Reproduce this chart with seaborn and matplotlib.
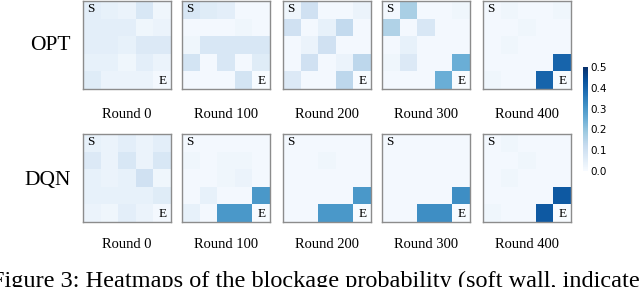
import numpy as np
import matplotlib
matplotlib.use("Agg")
import matplotlib.pyplot as plt
import seaborn as sns

# blockage probability per 5x5 grid cell
opt_r0 = [[0.05, 0.04, 0.03, 0.08, 0.02],
          [0.05, 0.05, 0.05, 0.02, 0.03],
          [0.05, 0.05, 0.04, 0.07, 0.07],
          [0.04, 0.04, 0.02, 0.05, 0.03],
          [0.06, 0.03, 0.03, 0.03, 0.01]]
opt_r100 = [[0.08, 0.06, 0.05, 0.01, 0.01],
            [0.01, 0.01, 0.01, 0.02, 0.01],
            [0.02, 0.08, 0.08, 0.08, 0.08],
            [0.09, 0.01, 0.08, 0.01, 0.06],
            [0.01, 0.01, 0.01, 0.09, 0.00]]
opt_r200 = [[0.02, 0.10, 0.01, 0.01, 0.03],
            [0.10, 0.01, 0.04, 0.13, 0.01],
            [0.01, 0.03, 0.10, 0.01, 0.01],
            [0.01, 0.10, 0.01, 0.03, 0.14],
            [0.07, 0.01, 0.01, 0.14, 0.00]]
opt_r300 = [[0.01, 0.17, 0.01, 0.01, 0.02],
            [0.16, 0.01, 0.08, 0.01, 0.01],
            [0.01, 0.04, 0.01, 0.01, 0.01],
            [0.02, 0.07, 0.01, 0.01, 0.25],
            [0.01, 0.01, 0.01, 0.25, 0.00]]
opt_r400 = [[0.01, 0.02, 0.01, 0.01, 0.02],
            [0.01, 0.01, 0.02, 0.01, 0.01],
            [0.01, 0.02, 0.01, 0.01, 0.01],
            [0.01, 0.01, 0.01, 0.01, 0.40],
            [0.02, 0.01, 0.01, 0.40, 0.00]]
dqn_r0 = [[0.04, 0.03, 0.05, 0.03, 0.05],
          [0.07, 0.03, 0.08, 0.03, 0.08],
          [0.04, 0.03, 0.04, 0.10, 0.02],
          [0.04, 0.04, 0.04, 0.04, 0.06],
          [0.03, 0.02, 0.05, 0.03, 0.01]]
dqn_r100 = [[0.01, 0.01, 0.01, 0.01, 0.01],
            [0.02, 0.01, 0.02, 0.02, 0.01],
            [0.01, 0.01, 0.02, 0.03, 0.01],
            [0.01, 0.04, 0.01, 0.01, 0.30],
            [0.04, 0.01, 0.30, 0.30, 0.00]]
dqn_r200 = [[0.01, 0.01, 0.01, 0.01, 0.01],
            [0.01, 0.01, 0.02, 0.01, 0.01],
            [0.01, 0.01, 0.01, 0.01, 0.01],
            [0.01, 0.01, 0.01, 0.01, 0.30],
            [0.01, 0.01, 0.30, 0.30, 0.00]]
dqn_r300 = [[0.01, 0.01, 0.01, 0.01, 0.01],
            [0.01, 0.01, 0.01, 0.01, 0.01],
            [0.01, 0.01, 0.01, 0.01, 0.01],
            [0.01, 0.01, 0.01, 0.01, 0.32],
            [0.01, 0.01, 0.32, 0.32, 0.00]]
dqn_r400 = [[0.01, 0.02, 0.01, 0.01, 0.01],
            [0.01, 0.01, 0.02, 0.01, 0.01],
            [0.01, 0.02, 0.01, 0.01, 0.01],
            [0.01, 0.01, 0.01, 0.01, 0.42],
            [0.02, 0.01, 0.01, 0.42, 0.00]]

methods = ["OPT", "DQN"]
rounds = ["Round 0", "Round 100", "Round 200", "Round 300", "Round 400"]
grids = {"OPT": [opt_r0, opt_r100, opt_r200, opt_r300, opt_r400],
         "DQN": [dqn_r0, dqn_r100, dqn_r200, dqn_r300, dqn_r400]}

W, H = 640, 287
fig = plt.figure(figsize=(W / 100, H / 100), dpi=100)
serif = ["Liberation Serif", "DejaVu Serif"]

lefts = [83, 182, 283, 382, 483]
bottoms = {"OPT": H - 89, "DQN": H - 222}
label_y = {"OPT": 114, "DQN": 245}
row_y = {"OPT": 45, "DQN": 180}
size = 88

for m in methods:
    for i, rnd in enumerate(rounds):
        ax = fig.add_axes([lefts[i] / W, bottoms[m] / H, size / W, size / H])
        sns.heatmap(np.array(grids[m][i]), ax=ax, cmap="Blues", vmin=0, vmax=0.5,
                    cbar=False, square=False, xticklabels=False, yticklabels=False)
        for sp in ax.spines.values():
            sp.set_visible(True)
            sp.set_color("#8c8c8c")
            sp.set_linewidth(1.0)
        ax.text(0.45, 0.45, "S", ha="center", va="center", fontsize=9.5, family=serif)
        ax.text(4.5, 4.55, "E", ha="center", va="center", fontsize=9.5, family=serif)
        fig.text((lefts[i] + size / 2) / W, 1 - label_y[m] / H, rnd, ha="center",
                 va="center", fontsize=10.5, family=serif)
    fig.text(71 / W, 1 - row_y[m] / H, m, ha="right", va="center",
             fontsize=15.5, family=serif)

# shared colorbar
cax = fig.add_axes([583 / W, (H - 171) / H, 5 / W, 104 / H])
sm = plt.cm.ScalarMappable(cmap="Blues", norm=plt.Normalize(0, 0.5))
cb = fig.colorbar(sm, cax=cax, ticks=[0, 0.1, 0.2, 0.3, 0.4, 0.5])
cb.outline.set_visible(False)
cb.ax.tick_params(length=0, labelsize=7.5, pad=2)
cb.ax.set_yticklabels(["0.0", "0.1", "0.2", "0.3", "0.4", "0.5"])

# caption, cropped at the edges as in the source image
fig.text(-9 / W, 1 - 281 / H,
         "Figure 3: Heatmaps of the blockage probability (soft wall, indicated by the color)",
         ha="left", va="center", fontsize=17.5, family=serif)

fig.savefig("out.png", dpi=100)
